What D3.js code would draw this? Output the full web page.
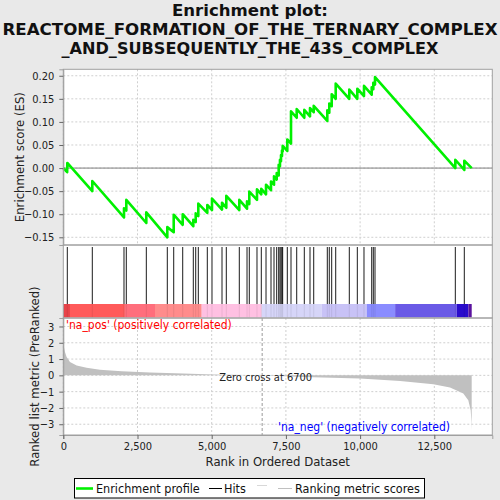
<!DOCTYPE html>
<html><head><meta charset="utf-8">
<script src="https://cdn.jsdelivr.net/npm/d3@7"></script>
<style>body{margin:0;background:#e9e9e9;overflow:hidden} svg{display:block}</style>
</head><body><svg id="c" width="500" height="500"></svg>
<script>
// ---------------- data ----------------
const titleLines = ["Enrichment plot:", "REACTOME_FORMATION_OF_THE_TERNARY_COMPLEX", "_AND_SUBSEQUENTLY_THE_43S_COMPLEX"];
const hitRanks = [135, 977, 2045, 2123, 2797, 3504, 3720, 4023, 4380, 4461, 4549, 4852, 5010, 5347, 5492,
  5930, 6190, 6267, 6526, 6671, 6830, 6998, 7099, 7190, 7257, 7300, 7335, 7368, 7391, 7547, 7672, 7864,
  8120, 8312, 8437, 8895, 8962, 9043, 9178, 9636, 9906, 10131, 10391, 10445, 10502, 13208, 13511];
const esPoints = [
  [0, 0], [130, -0.009], [135, 0.011], [977, -0.050], [977, -0.028], [2045, -0.107], [2045, -0.087],
  [2123, -0.092], [2123, -0.069], [2797, -0.119], [2797, -0.096], [3504, -0.150], [3504, -0.128],
  [3720, -0.139], [3720, -0.101], [4023, -0.123], [4023, -0.100], [4380, -0.126], [4380, -0.112],
  [4461, -0.117], [4461, -0.098], [4549, -0.104], [4549, -0.077], [4852, -0.097], [4852, -0.080],
  [5010, -0.091], [5010, -0.066], [5347, -0.090], [5347, -0.075], [5492, -0.086], [5492, -0.060],
  [5930, -0.091], [5930, -0.069], [6190, -0.088], [6190, -0.072], [6267, -0.078], [6267, -0.051],
  [6526, -0.069], [6526, -0.046], [6671, -0.057], [6671, -0.045], [6830, -0.057], [6830, -0.036],
  [6998, -0.048], [6998, -0.029], [7099, -0.036], [7099, -0.018], [7190, -0.025], [7190, -0.011],
  [7257, -0.016], [7257, 0.007], [7300, 0.004], [7300, 0.018], [7335, 0.015], [7335, 0.028],
  [7368, 0.026], [7368, 0.038], [7391, 0.036], [7391, 0.048], [7547, 0.037], [7547, 0.062],
  [7672, 0.053], [7672, 0.123], [7864, 0.109], [7864, 0.128], [8120, 0.109], [8120, 0.126],
  [8312, 0.112], [8312, 0.130], [8437, 0.121], [8437, 0.135], [8895, 0.102], [8895, 0.125],
  [8962, 0.120], [8962, 0.140], [9043, 0.134], [9043, 0.160], [9178, 0.150], [9178, 0.183],
  [9636, 0.150], [9636, 0.170], [9906, 0.150], [9906, 0.172], [10131, 0.156], [10131, 0.178],
  [10391, 0.159], [10391, 0.175], [10445, 0.171], [10445, 0.185], [10502, 0.181], [10502, 0.197],
  [13208, 0.000], [13208, 0.018], [13511, -0.004], [13511, 0.016], [13760, 0.000]];
const metricPoints = [
  [0, 1.94], [20, 1.75], [56, 1.43], [112, 1.12], [225, 0.82], [450, 0.61], [786, 0.47], [1235, 0.35],
  [1965, 0.245], [2920, 0.18], [4045, 0.12], [5055, 0.06], [5617, 0.03], [6700, 0], [8087, -0.1],
  [9997, -0.2], [11345, -0.35], [12467, -0.55], [13029, -0.75], [13477, -1.12], [13645, -1.53],
  [13726, -2.14], [13750, -2.8], [13760, -3.37]];
const bandStops = [0, 225, 2075, 3090, 4663, 6685, 8700, 10225, 11180, 13258, 13650, 13760];
const bandColors = ["#e8444a", "#ff5a5a", "#ff6e7c", "#ff8c8c", "#ffc0e2", "#d6d5f8", "#c8c2f6",
  "#8a8cff", "#6a5ae6", "#2a0ccc", "#5a129e"];
const esTicks = [-0.15, -0.10, -0.05, 0.00, 0.05, 0.10, 0.15, 0.20];
const metricTicks = [-3, -2, -1, 0, 1, 2, 3];
const rankTicks = [0, 2500, 5000, 7500, 10000, 12500];
const zeroCross = 6700;
const rankMax = 14454;
const esDomain = [-0.1667, 0.214];
const metricDomain = [-3.66, 3.52];

// ---------------- layout ----------------
const F = "'DejaVu Sans Condensed','DejaVu Sans',sans-serif";
const L = 63.3, R = 492.3;
const topY0 = 69.3, topY1 = 245, hitY0 = 245, hitY1 = 318, bandY0 = 304, bandY1 = 317.5, botY0 = 318, botY1 = 435;
const svg = d3.select("#c");
svg.append("rect").attr("width", 500).attr("height", 500).attr("fill", "#e9e9e9");

const x = d3.scaleLinear().domain([0, rankMax]).range([L, R]);
const yEs = d3.scaleLinear().domain(esDomain).range([topY1, topY0]);
const yM = d3.scaleLinear().domain(metricDomain).range([botY1, botY0]);

// title
const titleWidths = [156, 495, 377];
svg.append("g").selectAll("text").data(titleLines).join("text")
  .attr("x", 250).attr("y", (d, i) => 16 + i * 19.2)
  .attr("text-anchor", "middle").attr("font-family", F).attr("font-weight", "bold")
  .attr("font-size", 16.5).attr("font-stretch", "condensed").attr("fill", "#111")
  .attr("textLength", (d, i) => titleWidths[i]).attr("lengthAdjust", "spacingAndGlyphs")
  .text(d => d);

// panel backgrounds
[[topY0, topY1], [hitY0, hitY1], [botY0, botY1]].forEach(([a, b]) => {
  svg.append("rect").attr("x", L).attr("y", a).attr("width", R - L).attr("height", b - a).attr("fill", "#fff");
});

// grids
const gridCol = "#cfcfcf";
const gTop = svg.append("g");
gTop.selectAll("line.h").data(esTicks).join("line")
  .attr("x1", L).attr("x2", R).attr("y1", d => yEs(d)).attr("y2", d => yEs(d))
  .attr("stroke", gridCol).attr("stroke-dasharray", "2,2");
gTop.selectAll("line.v").data(rankTicks).join("line")
  .attr("x1", d => x(d)).attr("x2", d => x(d)).attr("y1", topY0).attr("y2", topY1)
  .attr("stroke", gridCol).attr("stroke-dasharray", "2,2");
const gBot = svg.append("g");
gBot.selectAll("line.h").data(metricTicks).join("line")
  .attr("x1", L).attr("x2", R).attr("y1", d => yM(d)).attr("y2", d => yM(d))
  .attr("stroke", gridCol).attr("stroke-dasharray", "2,2");
gBot.selectAll("line.v").data(rankTicks).join("line")
  .attr("x1", d => x(d)).attr("x2", d => x(d)).attr("y1", botY0).attr("y2", botY1)
  .attr("stroke", gridCol).attr("stroke-dasharray", "2,2");

// zero line top
svg.append("line").attr("x1", L).attr("x2", R).attr("y1", yEs(0)).attr("y2", yEs(0))
  .attr("stroke", "#808080").attr("stroke-width", 1);

// ES curve
svg.append("path").datum(esPoints)
  .attr("d", d3.line().x(d => x(d[0])).y(d => yEs(d[1])))
  .attr("fill", "none").attr("stroke", "#00f000").attr("stroke-width", 2.6).attr("stroke-linejoin", "round");

// hits
svg.append("g").selectAll("line").data(hitRanks).join("line")
  .attr("x1", d => x(d)).attr("x2", d => x(d)).attr("y1", hitY0 + 2).attr("y2", bandY0)
  .attr("stroke", "#000").attr("stroke-width", 0.9);

// band
svg.append("g").selectAll("rect").data(bandColors).join("rect")
  .attr("x", (d, i) => x(bandStops[i])).attr("width", (d, i) => x(bandStops[i + 1]) - x(bandStops[i]))
  .attr("y", bandY0).attr("height", bandY1 - bandY0).attr("fill", d => d);
svg.append("g").selectAll("line").data(hitRanks).join("line")
  .attr("x1", d => x(d)).attr("x2", d => x(d)).attr("y1", bandY0).attr("y2", bandY1)
  .attr("stroke", "#000").attr("stroke-opacity", 0.08).attr("stroke-width", 1);

// metric area
svg.append("path").datum(metricPoints)
  .attr("d", d3.area().x(d => x(d[0])).y0(yM(0)).y1(d => yM(d[1])))
  .attr("fill", "#c0c0c0").attr("stroke", "none");

// zero cross
svg.append("line").attr("x1", x(zeroCross)).attr("x2", x(zeroCross)).attr("y1", botY0).attr("y2", botY1)
  .attr("stroke", "#999").attr("stroke-dasharray", "3,2");
svg.append("text").attr("x", x(zeroCross) - 43).attr("y", 381).attr("font-family", F).attr("font-stretch", "condensed")
  .attr("font-size", 11).attr("fill", "#222").text("Zero cross at " + zeroCross);

// corr labels
svg.append("text").attr("x", 66).attr("y", 329).attr("font-family", F).attr("font-stretch", "condensed")
  .attr("font-size", 12).attr("fill", "#ff0000").text("'na_pos' (positively correlated)");
svg.append("text").attr("x", 278).attr("y", 431).attr("font-family", F).attr("font-stretch", "condensed")
  .attr("font-size", 12).attr("fill", "#0000ff").text("'na_neg' (negatively correlated)");

// panel borders
[[topY0, topY1], [hitY0, hitY1], [botY0, botY1]].forEach(([a, b]) => {
  svg.append("rect").attr("x", L).attr("y", a).attr("width", R - L).attr("height", b - a)
    .attr("fill", "none").attr("stroke", "#a0a0a0");
});

// axes
function styleAxis(g) {
  g.select(".domain").attr("stroke", "#a0a0a0");
  g.selectAll(".tick line").attr("stroke", "#666");
  g.selectAll(".tick text").attr("font-family", F).attr("font-stretch", "condensed").attr("font-size", 11).attr("fill", "#222");
}
svg.append("g").attr("transform", `translate(${L},0)`)
  .call(d3.axisLeft(yEs).tickValues(esTicks).tickFormat(d3.format(".2f")).tickSize(4).tickPadding(5))
  .call(styleAxis);
svg.append("g").attr("transform", `translate(${L},0)`)
  .call(d3.axisLeft(yM).tickValues(metricTicks).tickFormat(d3.format("d")).tickSize(4).tickPadding(5))
  .call(styleAxis);
svg.append("g").attr("transform", `translate(0,${botY1})`)
  .call(d3.axisBottom(x).tickValues(rankTicks).tickFormat(d3.format(",")).tickSize(4).tickPadding(3))
  .call(styleAxis);

// axis titles
svg.append("text").attr("transform", `translate(24,${(topY0 + topY1) / 2}) rotate(-90)`)
  .attr("text-anchor", "middle").attr("font-family", F).attr("font-stretch", "condensed").attr("font-size", 13)
  .attr("fill", "#222").text("Enrichment score (ES)");
svg.append("text").attr("transform", `translate(39,${(botY0 + botY1) / 2}) rotate(-90)`)
  .attr("text-anchor", "middle").attr("font-family", F).attr("font-stretch", "condensed").attr("font-size", 13)
  .attr("fill", "#222").text("Ranked list metric (PreRanked)");
svg.append("text").attr("x", (L + R) / 2).attr("y", 466).attr("text-anchor", "middle")
  .attr("font-family", F).attr("font-stretch", "condensed").attr("font-size", 13).attr("fill", "#222")
  .text("Rank in Ordered Dataset");

// legend
const lg = svg.append("g");
lg.append("rect").attr("x", 74.5).attr("y", 478.5).attr("width", 350).attr("height", 19.5)
  .attr("fill", "#fff").attr("stroke", "#000");
const ly = 488.5;
lg.append("line").attr("x1", 76).attr("x2", 93).attr("y1", ly).attr("y2", ly).attr("stroke", "#00f000").attr("stroke-width", 2.6);
lg.append("text").attr("x", 96).attr("y", ly + 4.5).attr("font-family", F).attr("font-stretch", "condensed").attr("font-size", 12.5).attr("fill", "#111").text("Enrichment profile");
lg.append("line").attr("x1", 209).attr("x2", 222).attr("y1", ly).attr("y2", ly).attr("stroke", "#000").attr("stroke-width", 1);
lg.append("text").attr("x", 224).attr("y", ly + 4.5).attr("font-family", F).attr("font-stretch", "condensed").attr("font-size", 12.5).attr("fill", "#111").text("Hits");
lg.append("line").attr("x1", 257).attr("x2", 267).attr("y1", ly - 3).attr("y2", ly - 3).attr("stroke", "#d8d8d8").attr("stroke-width", 1);
lg.append("line").attr("x1", 278).attr("x2", 292).attr("y1", ly).attr("y2", ly).attr("stroke", "#c0c0c0").attr("stroke-width", 1);
lg.append("text").attr("x", 295).attr("y", ly + 4.5).attr("font-family", F).attr("font-stretch", "condensed").attr("font-size", 12.5).attr("fill", "#111").text("Ranking metric scores");
</script></body></html>
